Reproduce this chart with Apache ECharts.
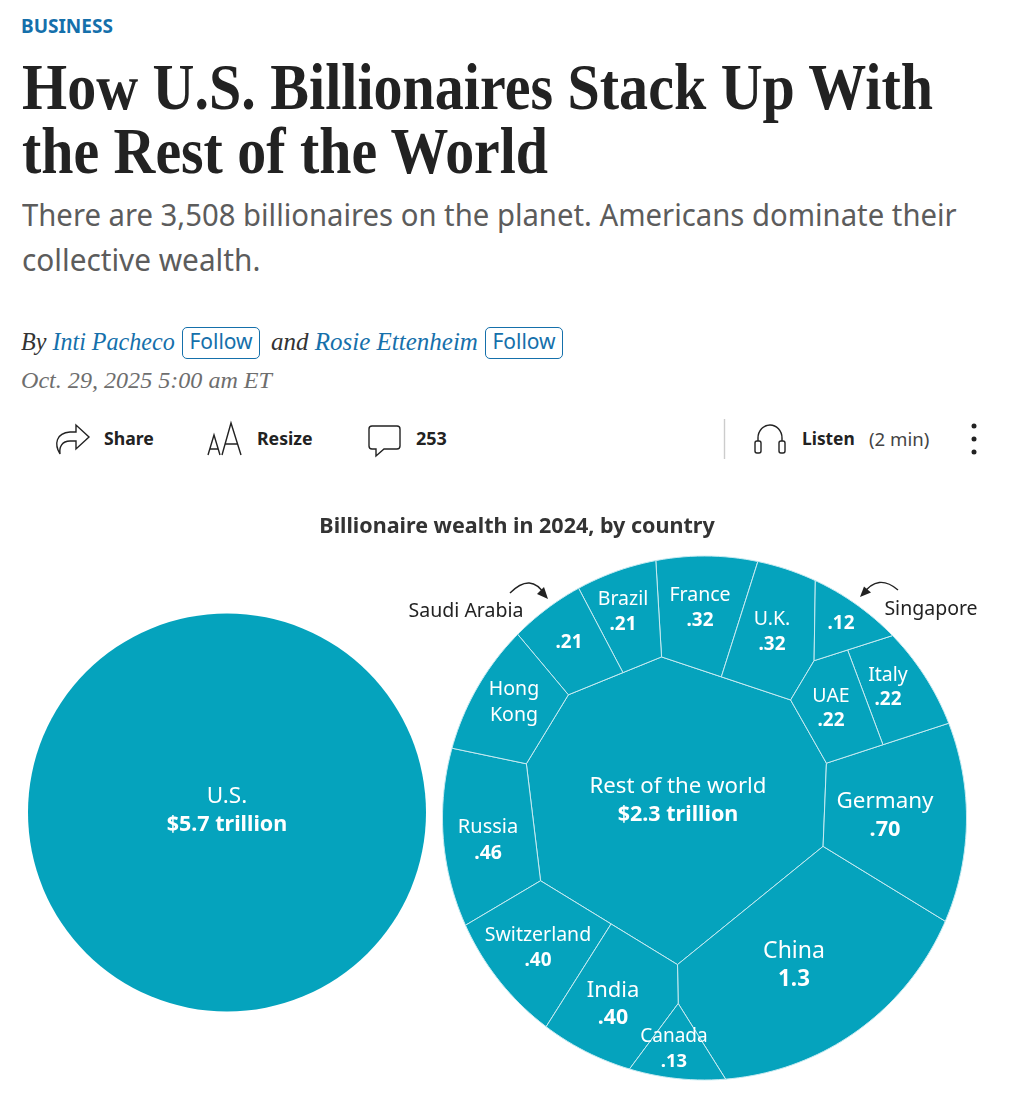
<!DOCTYPE html>
<html>
<head>
<meta charset="utf-8">
<title>How U.S. Billionaires Stack Up With the Rest of the World</title>
<script src="https://cdn.jsdelivr.net/npm/echarts@6/dist/echarts.min.js"></script>
<style>
html,body{margin:0;background:#fff}
#page{position:relative;width:1030px;height:1118px;overflow:hidden;font-family:"Noto Sans",sans-serif;color:#222}
.t{position:absolute;white-space:nowrap;transform-origin:0 50%;line-height:1}
.head{font-family:"Liberation Serif",serif;font-weight:700;font-size:66px;color:#222}
.dek{font-size:31px;color:#5c5c5c}
.by{font-family:"Liberation Serif",serif;font-style:italic;font-size:25px;color:#333}
.by b{font-weight:400;color:#1570ab}
.date{font-family:"Liberation Serif",serif;font-style:italic;font-size:24px;color:#6e6e6e}
.btn{position:absolute;box-sizing:border-box;height:32px;width:78px;border:1px solid #1570ab;border-radius:5px;color:#1570ab;font-size:21px;line-height:26px;text-align:center}
.act{font-size:18px;font-weight:700;color:#222}
#chart{position:absolute;left:0;top:500px;width:1030px;height:618px}
svg{position:absolute;left:0;top:0}
</style>
</head>
<body>
<div id="page">
  <div class="t" data-w="92" style="left:21px;top:17px;font-size:19px;font-weight:700;color:#1570ab">BUSINESS</div>
  <div class="t head" data-w="911" style="left:22px;top:54px">How U.S. Billionaires Stack Up With</div>
  <div class="t head" data-w="526" style="left:22px;top:118px">the Rest of the World</div>
  <div class="t dek" data-w="935" style="left:22px;top:199px">There are 3,508 billionaires on the planet. Americans dominate their</div>
  <div class="t dek" data-w="238" style="left:22px;top:244px">collective wealth.</div>
  <div class="t by" data-w="154" style="left:21px;top:329px">By <b>Inti Pacheco</b></div>
  <div class="btn" style="left:182px;top:327px">Follow</div>
  <div class="t by" data-w="207" style="left:271px;top:329px">and <b>Rosie Ettenheim</b></div>
  <div class="btn" style="left:485px;top:327px">Follow</div>
  <div class="t date" data-w="251" style="left:21px;top:368px">Oct. 29, 2025 5:00 am ET</div>
  <div class="t act" data-w="50" style="left:104px;top:429px">Share</div>
  <div class="t act" data-w="56" style="left:257px;top:429px">Resize</div>
  <div class="t act" data-w="31" style="left:416px;top:429px">253</div>
  <div class="t act" data-w="53" style="left:802px;top:429px">Listen</div>
  <div class="t" data-w="60" style="left:869px;top:430px;font-size:18px;color:#444">(2 min)</div>
  <svg width="1030" height="500" fill="none" stroke="#222" stroke-width="1.4">
    <path d="M60 454C54 444 56 433 70 432H76V425L89 437 76 449V441H70C62 441 59 447 60 454Z"/>
    <path d="M208 455L214 435 220 455M210 449H218M222 455L231 423 241 455M225 444H238"/>
    <path d="M372 426H397a3 3 0 0 1 3 3V446a3 3 0 0 1-3 3H384L376 456V449H372a3 3 0 0 1-3-3V429a3 3 0 0 1 3-3Z"/>
    <path d="M758 441V438a12 13 0 0 1 24 0V441"/>
    <rect x="755" y="441" width="6" height="12" rx="2"/>
    <rect x="779" y="441" width="6" height="12" rx="2"/>
    <path d="M724.500 419V459" stroke="#ccc"/>
    <g fill="#222" stroke="none"><circle cx="974" cy="426" r="2.500"/><circle cx="974" cy="439" r="2.500"/><circle cx="974" cy="452" r="2.500"/></g>
  </svg>
  <div id="chart"></div>
</div>
<script>
// fit the header lines to the measured widths
document.querySelectorAll('[data-w]').forEach(function(el){
  el.style.transform='scaleX('+(el.getAttribute('data-w')/el.offsetWidth)+')';
});

/* 数据 */
var countries=['Rest of the world','China','Germany','Russia','Switzerland','India','France','U.K.','Italy','UAE','Brazil','Saudi Arabia','Hong Kong','Canada','Singapore'];
var wealth=[2.3,1.3,0.70,0.46,0.40,0.40,0.32,0.32,0.22,0.22,0.21,0.21,0.30,0.13,0.12];  //Hong Kong has no printed value, read from its area
var valueLabels=['$2.3 trillion','1.3','.70','.46','.40','.40','.32','.32','.22','.22','.21','.21','','.13','.12'];
var usName='U.S.';
var usWealth=5.7;
var usLabel='$5.7 trillion';

/* layout of the voronoi treemap: seed points (page px), areas come from wealth */
var topSeeds=[[672.8,803.8],[805.2,966.8],[899.5,812.9],[484.8,826.6],[570.4,971],[733.9,620.6],[861.6,696.9],[601.5,628.5],[510.3,704.9],[674.8,1048.6],[837.7,622.2]];
var topMembers=[[0],[1],[2],[3],[4,5],[6,7],[8,9],[10,11],[12],[13],[14]];
var pairSeeds={4:[544,952.5],5:[612,995.5],6:[702,607],7:[778.4,631.2],8:[902,682],9:[827,710],10:[636.2,611.7],11:[565.4,648.9]};
var circle={x:704.5,y:818,r:262};

/* label placement: x, y of name, y of value, font size */
var labelAt=[[678,786.5,814.5,22.2],[794,951.5,979.5,23],[885,801.5,829.5,22.4],[488,827,853,20],[538,935,961,19.5],[613,990.5,1017.5,22],[700,595,621,19.5],[772,619,645,19.5],[888,675,700,19.5],[831,696,721,19.5],[623,599,625,19.5],[466,611,643,19.5],[514,689,715,19.5],[674,1037,1062,19],[931,609,624,19.5]];
var valueX={11:569,14:841};

function polyArea(p){
  var s=0;
  for(var i=0;i<p.length;i++){
    var a=p[i],b=p[(i+1)%p.length];
    s+=a[0]*b[1]-a[1]*b[0];
  }
  return Math.abs(s)/2;
}
//clip region to the power cell of seed i
function clipCell(region,seeds,w,i){
  var p=region;
  for(var j=0;j<seeds.length&&p.length;j++){
    if(j==i)continue;
    var q=[];
    var d=function(x){
      return (Math.pow(x[0]-seeds[i][0],2)+Math.pow(x[1]-seeds[i][1],2)-w[i])-(Math.pow(x[0]-seeds[j][0],2)+Math.pow(x[1]-seeds[j][1],2)-w[j]);
    };
    for(var k=0;k<p.length;k++){
      var a=p[k],b=p[(k+1)%p.length],da=d(a),db=d(b);
      if(da<=0)q.push(a);
      if(da*db<0){
        var t=da/(da-db);
        q.push([a[0]+(b[0]-a[0])*t,a[1]+(b[1]-a[1])*t]);
      }
    }
    p=q;
  }
  return p;
}
//move the weights until each cell area is proportional to its value
function powerCells(region,seeds,vals){
  var total=vals.reduce(function(a,b){return a+b;},0);
  var size=polyArea(region);
  var w=seeds.map(function(){return 0;});
  for(var n=0;n<2500;n++){
    var cur=seeds.map(function(s,i){return polyArea(clipCell(region,seeds,w,i));});
    for(var i=0;i<seeds.length;i++){
      w[i]+=0.2*(vals[i]/total*size-cur[i]);
    }
  }
  return seeds.map(function(s,i){return clipCell(region,seeds,w,i);});
}

var ring=[];
for(var a=0;a<240;a++){
  ring.push([circle.x+circle.r*Math.cos(a/120*Math.PI),circle.y+circle.r*Math.sin(a/120*Math.PI)]);
}
var cells=[];
var topVals=topMembers.map(function(m){
  return m.reduce(function(s,i){return s+wealth[i];},0);
});
powerCells(ring,topSeeds,topVals).forEach(function(poly,g){
  var m=topMembers[g];
  if(m.length==1){
    cells[m[0]]=poly;
  }else{
    var sub=powerCells(poly,m.map(function(i){return pairSeeds[i];}),m.map(function(i){return wealth[i];}));
    m.forEach(function(i,k){cells[i]=sub[k];});
  }
});

var FONT='"Noto Sans"';
var TEAL='#05a3bd';
var myChart=echarts.init(document.getElementById('chart'));
var option={
  animation:false,
  title:{
    text:'Billionaire wealth in 2024, by country',
    left:512,
    top:11,
    textAlign:'center',
    textStyle:{fontFamily:FONT,fontSize:21.5,fontWeight:700,color:'#333'}
  },
  grid:{left:0,right:0,top:0,bottom:0},
  xAxis:{type:'value',min:0,max:1030,show:false},
  yAxis:{type:'value',min:500,max:1118,inverse:true,show:false},
  series:[
    {
      type:'pie',
      silent:true,
      center:[227,312.5],
      radius:[0,199],
      itemStyle:{color:TEAL},
      label:{
        position:'center',
        formatter:'{n|'+usName+'}\n{v|'+usLabel+'}',
        offset:[0,-2],
        rich:{
          n:{fontFamily:FONT,fontSize:22.5,color:'#fff',lineHeight:28},
          v:{fontFamily:FONT,fontSize:21.5,fontWeight:700,color:'#fff',lineHeight:28}
        }
      },
      labelLine:{show:false},
      data:[{name:usName,value:usWealth}]
    },
    {
      type:'custom',
      coordinateSystem:'cartesian2d',
      silent:true,
      clip:false,
      data:countries.map(function(c,i){return {name:c,value:[i,wealth[i]]};}),
      renderItem:function(params,api){
        var i=params.dataIndex;
        var pos=labelAt[i];
        var outside=i==11||i==14;
        var kids=[{
          type:'polygon',
          shape:{points:cells[i].map(function(p){return api.coord(p);})},
          style:{fill:TEAL,stroke:'#c6eaf1',lineWidth:1}
        }];
        var txt=function(s,x,y,bold,fill){
          var c=api.coord([x,y]);
          return {type:'text',x:c[0],y:c[1],z2:10,style:{text:s,fill:fill,align:'center',verticalAlign:'middle',fontFamily:FONT,fontSize:bold?pos[3]*0.97:pos[3],fontWeight:bold?700:400}};
        };
        if(i==12){
          kids.push(txt('Hong',pos[0],pos[1],false,'#fff'),txt('Kong',pos[0],pos[2],false,'#fff'));
        }else{
          kids.push(txt(countries[i],pos[0],pos[1],false,outside?'#222':'#fff'));
          kids.push(txt(valueLabels[i],outside?valueX[i]:pos[0],pos[2],true,'#fff'));
        }
        return {type:'group',children:kids};
      }
    }
  ],
  //the two small arrows that point from a name to its cell (y is chart px, page y-500)
  graphic:[
    {type:'bezierCurve',shape:{x1:510,y1:93,x2:545,y2:95,cpx1:531,cpy1:72},style:{stroke:'#222',lineWidth:1.4,fill:null}},
    {type:'polygon',shape:{points:[[548,99],[544,87],[537,94]]},style:{fill:'#222'}},
    {type:'bezierCurve',shape:{x1:898,y1:90,x2:863,y2:94,cpx1:878,cpy1:73},style:{stroke:'#222',lineWidth:1.4,fill:null}},
    {type:'polygon',shape:{points:[[860,97],[864,86.500],[871,92.500]]},style:{fill:'#222'}}
  ]
};
myChart.setOption(option);
</script>
</body>
</html>
